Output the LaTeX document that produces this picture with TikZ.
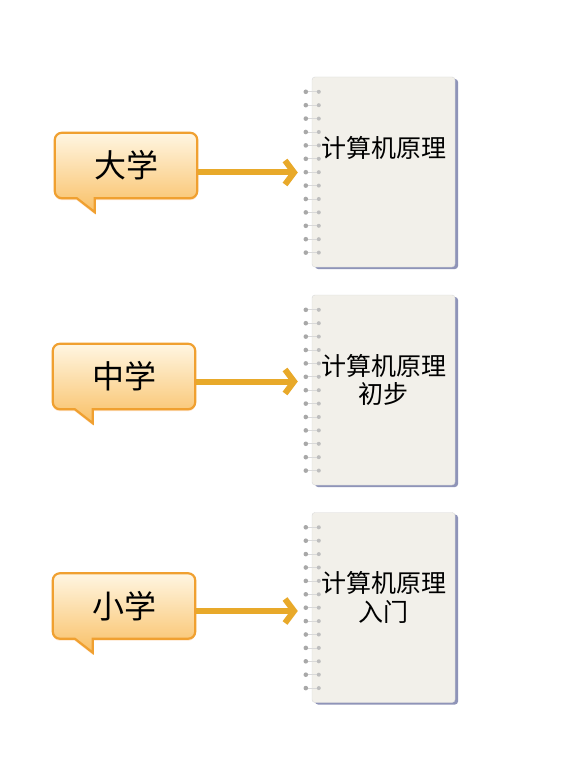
\documentclass[tikz,border=0pt]{standalone}
\usepackage{fontspec}
\setmainfont{Noto Sans CJK SC}
\usetikzlibrary{arrows.meta,positioning,shadows,backgrounds}

\definecolor{bubbleedge}{HTML}{F0A030}
\definecolor{bubbletop}{HTML}{FFF6E2}
\definecolor{bubblebot}{HTML}{F9C066}
\definecolor{arrowgold}{HTML}{E8A92A}
\definecolor{pagefill}{HTML}{F2F0EA}
\definecolor{pageshadow}{HTML}{8F94B8}
\definecolor{ringgray}{HTML}{A8A8A8}

% callout outline with its tail, drawn round a named node
\newcommand{\bubbleshape}[1]{%
  \draw[bubbleline] ([xshift=22pt]#1.south west) [rounded corners=7pt] -- (#1.south west) -- (#1.north west) -- (#1.north east) -- (#1.south east) [sharp corners] -- ([xshift=40pt]#1.south west) -- ++(0,14) -- cycle;}
% spiral rings along the left edge of a page
\newcommand{\rings}[1]{%
  \foreach \i in {0,...,12} {
    \draw[gray!30,line width=0.7pt] ([xshift=-6pt,yshift={-15pt-13.4pt*\i}]#1.north west) -- ([xshift=7pt,yshift={-15pt-13.4pt*\i}]#1.north west);
    \fill[ringgray] ([xshift=-6pt,yshift={-15pt-13.4pt*\i}]#1.north west) circle (2.3pt);
    \fill[ringgray!75] ([xshift=7pt,yshift={-15pt-13.4pt*\i}]#1.north west) circle (2pt);
  }}

\begin{document}
\begin{tikzpicture}[x=1pt,y=-1pt,
    bubble/.style={minimum width=142pt,minimum height=65pt,inner sep=0pt,font=\fontsize{32}{38}\selectfont},
    bubbleline/.style={draw=bubbleedge,line width=2.2pt,top color=bubbletop,bottom color=bubblebot,
      drop shadow={shadow xshift=0pt,shadow yshift=-2pt,fill=orange!45,opacity=.45}},
    page/.style={minimum width=143pt,minimum height=190pt,inner sep=0pt,draw=gray!30,fill=pagefill,rounded corners=3pt,
      drop shadow={shadow xshift=3pt,shadow yshift=-2pt,fill=pageshadow,opacity=1}},
    booktext/.style={inner sep=0pt,align=center,font=\fontsize{25}{28.5}\selectfont},
    link/.style={draw=arrowgold,line width=6pt,shorten <=1pt,shorten >=14pt,
      -{Straight Barb[length=9pt,width=24pt]}}]
  \useasboundingbox (0,0) rectangle (560,767);

  % the three schools
  \node[bubble] (daxue) at (126,165.5) {大学};
  \node[bubble] (zhongxue) at (124,376.5) {中学};
  \node[bubble] (xiaoxue) at (124,606) {小学};

  % the three notebooks
  \node[page] (book1) at (383.5,172) {};
  \node[page] (book2) at (383.5,390) {};
  \node[page] (book3) at (383.5,607.5) {};
  \node[booktext,below=59pt of book1.north] (text1) {计算机原理};
  \node[booktext,below=59pt of book2.north] (text2) {计算机原理\\初步};
  \node[booktext,below=59pt of book3.north] (text3) {计算机原理\\入门};

  \begin{scope}[on background layer]
    \fill[white] (0,0) rectangle (560,767);
    \bubbleshape{daxue}
    \bubbleshape{zhongxue}
    \bubbleshape{xiaoxue}
  \end{scope}
  \rings{book1}
  \rings{book2}
  \rings{book3}

  % arrows
  \coordinate (a1) at ([yshift=-7pt]daxue.east);
  \coordinate (a2) at ([yshift=-5pt]zhongxue.east);
  \coordinate (a3) at ([yshift=-5pt]xiaoxue.east);
  \draw[link] (a1) -- (a1 -| book1.west);
  \draw[link] (a2) -- (a2 -| book2.west);
  \draw[link] (a3) -- (a3 -| book3.west);
\end{tikzpicture}
\end{document}
